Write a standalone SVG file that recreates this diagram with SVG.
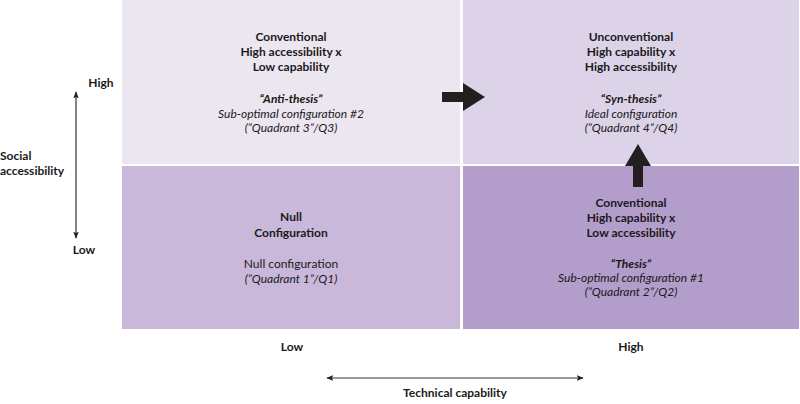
<svg xmlns="http://www.w3.org/2000/svg" width="800" height="404" viewBox="0 0 800 404">
<defs>
<style>
text{font-family:Lato,"Open Sans","Liberation Sans",sans-serif;font-size:12px;fill:#1a1a1a;text-anchor:middle}
.b{font-weight:bold}
.i{font-style:italic}
.bi{font-weight:bold;font-style:italic}
.l{text-anchor:start}
.axis{stroke:#333;stroke-width:1.2;fill:none}
.big{fill:#231f20}
</style>
<marker id="ah" viewBox="0 0 10 10" refX="9" refY="5" markerWidth="7" markerHeight="7" orient="auto-start-reverse" markerUnits="userSpaceOnUse">
<path d="M0,1 L10,5 L0,9 L2,5 Z" fill="#222"/>
</marker>
</defs>
<rect width="800" height="404" fill="#fff"/>
<g id="q3">
<rect x="122" y="0" width="338" height="164" fill="#ece6f1"/>
<text x="291" y="41" class="b">Conventional</text>
<text x="291" y="56" class="b">High accessibility x</text>
<text x="291" y="71" class="b">Low capability</text>
<text x="291" y="103" class="bi">“Anti-thesis”</text>
<text x="291" y="118" class="i">Sub-optimal configuration #2</text>
<text x="291" y="132" class="i">(”Quadrant 3”/Q3)</text>
</g>
<g id="q4">
<rect x="463" y="0" width="336" height="164" fill="#dcd3e8"/>
<text x="631" y="41" class="b">Unconventional</text>
<text x="631" y="56" class="b">High capability x</text>
<text x="631" y="71" class="b">High accessibility</text>
<text x="631" y="103" class="bi">“Syn-thesis”</text>
<text x="631" y="118" class="i">Ideal configuration</text>
<text x="631" y="132" class="i">(”Quadrant 4”/Q4)</text>
</g>
<g id="q1">
<rect x="122" y="166" width="338" height="163" fill="#c9b8da"/>
<text x="291" y="221" class="b">Null</text>
<text x="291" y="237" class="b">Configuration</text>
<text x="291" y="268">Null configuration</text>
<text x="291" y="283" class="i">(”Quadrant 1”/Q1)</text>
</g>
<g id="q2">
<rect x="463" y="166" width="336" height="163" fill="#b39dcb"/>
<text x="631" y="207" class="b">Conventional</text>
<text x="631" y="222" class="b">High capability x</text>
<text x="631" y="237" class="b">Low accessibility</text>
<text x="631" y="268" class="bi">“Thesis”</text>
<text x="631" y="282" class="i">Sub-optimal configuration #1</text>
<text x="631" y="296" class="i">(”Quadrant 2”/Q2)</text>
</g>
<g id="axis-y">
<text x="101" y="87" class="b">High</text>
<text x="84" y="254" class="b">Low</text>
<text x="0" y="160" class="b l">Social</text>
<text x="0" y="175" class="b l">accessibility</text>
</g>
<g id="axis-x">
<text x="292" y="351" class="b">Low</text>
<text x="631" y="351" class="b">High</text>
<text x="455" y="397" class="b">Technical capability</text>
</g>
<g id="connectors">
<line x1="76" y1="92" x2="76" y2="238" class="axis" marker-start="url(#ah)" marker-end="url(#ah)"/>
<line x1="327" y1="378" x2="583" y2="378" class="axis" marker-start="url(#ah)" marker-end="url(#ah)"/>
<path class="big" d="M442,92 L463,92 L463,83 L485,97 L463,111 L463,102 L442,102 Z"/>
<path class="big" d="M633,187 L633,166 L625,166 L638,144 L651,166 L643,166 L643,187 Z"/>
</g>
</svg>
